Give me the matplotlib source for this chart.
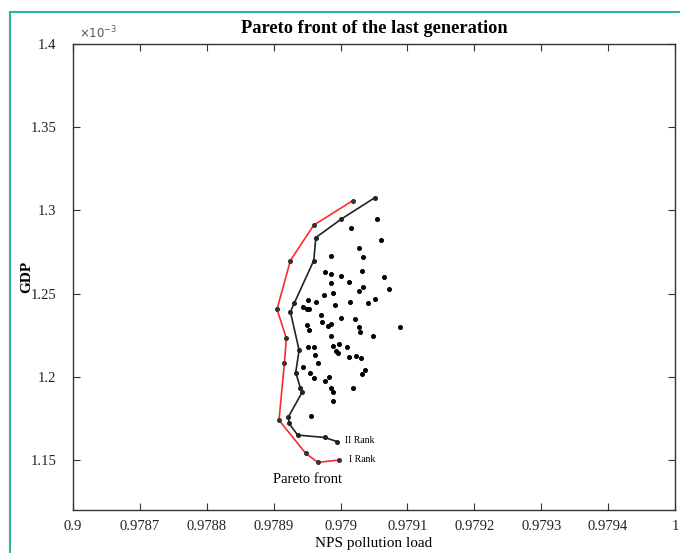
import matplotlib
matplotlib.use("Agg")
import matplotlib.pyplot as plt
from matplotlib.lines import Line2D

plt.rcParams['font.family'] = ['Liberation Serif', 'DejaVu Serif']

# ---- data (GDP in units of 1e-3) ----
rank1_x = [0.979018, 0.978960, 0.978925, 0.978905, 0.978919, 0.978916,
           0.978908, 0.978948, 0.978966, 0.978997]
rank1_y = [1.3058, 1.2912, 1.2699, 1.2406, 1.2231, 1.2081,
           1.1740, 1.1540, 1.1486, 1.1500]

rank2_x = [0.979051, 0.979001, 0.978963, 0.978960, 0.978931, 0.978925,
           0.978938, 0.978933, 0.978940, 0.978943, 0.978922, 0.978923,
           0.978936, 0.978976, 0.978995]
rank2_y = [1.3076, 1.2948, 1.2837, 1.2699, 1.2445, 1.2391,
           1.2161, 1.2026, 1.1933, 1.1910, 1.1760, 1.1720,
           1.1650, 1.1636, 1.1611]

pop_x = [0.979054, 0.979016, 0.979060, 0.979027, 0.978986, 0.979033,
         0.978976, 0.978986, 0.979000, 0.979032, 0.979065, 0.979012,
         0.978986, 0.979073, 0.979028, 0.979034, 0.978988, 0.978975,
         0.978951, 0.978964, 0.979014, 0.979041, 0.979052, 0.978944,
         0.978950, 0.978953, 0.978992, 0.978971, 0.979000, 0.979022,
         0.979089, 0.978973, 0.978981, 0.978985, 0.978950, 0.979027,
         0.978953, 0.979029, 0.978985, 0.979049, 0.978951, 0.978960,
         0.978989, 0.978997, 0.979010, 0.978993, 0.978996, 0.978962,
         0.979013, 0.979023, 0.979030, 0.978967, 0.978944, 0.978955,
         0.978960, 0.978977, 0.978983, 0.979032, 0.979037, 0.978985,
         0.978988, 0.979018, 0.978988, 0.978956]
pop_y = [1.2948, 1.2892, 1.2822, 1.2776, 1.2729, 1.2722,
         1.2628, 1.2618, 1.2609, 1.2636, 1.2601, 1.2571,
         1.2564, 1.2526, 1.2517, 1.2537, 1.2502, 1.2491,
         1.2463, 1.2451, 1.2451, 1.2445, 1.2469, 1.2422,
         1.2410, 1.2406, 1.2430, 1.2371, 1.2353, 1.2347,
         1.2301, 1.2331, 1.2308, 1.2315, 1.2311, 1.2302,
         1.2281, 1.2271, 1.2248, 1.2246, 1.2177, 1.2181,
         1.2185, 1.2197, 1.2181, 1.2158, 1.2141, 1.2131,
         1.2117, 1.2127, 1.2111, 1.2085, 1.2057, 1.2025,
         1.1991, 1.1976, 1.2000, 1.2017, 1.2041, 1.1931,
         1.1909, 1.1936, 1.1854, 1.1766]

x_ticks = [0.9786, 0.9787, 0.9788, 0.9789, 0.9790, 0.9791, 0.9792, 0.9793, 0.9794, 0.9795]
x_ticklabels = ['0.9', '0.9787', '0.9788', '0.9789', '0.979', '0.9791',
                '0.9792', '0.9793', '0.9794', '1']
y_ticks = [1.15, 1.2, 1.25, 1.3, 1.35, 1.4]
y_ticklabels = ['1.15', '1.2', '1.25', '1.3', '1.35', '1.4']

fig = plt.figure(figsize=(6.8, 5.53), dpi=100)
ax = fig.add_axes([73/680, 1-510/553, (675-73)/680, (510-44)/553])

ax.plot(pop_x, pop_y, 'o', color='black', markersize=2.6, linestyle='none')
ax.plot(rank2_x, rank2_y, '-o', color='#222222', linewidth=1.2,
        markersize=2.6, markerfacecolor='#222222', markeredgecolor='#222222')
ax.plot(rank1_x, rank1_y, '-', color='#ff2a2a', linewidth=1.2)
ax.plot(rank1_x, rank1_y, 'o', color='#333333', markersize=2.6)

ax.set_xlim(0.9786, 0.9795)
ax.set_ylim(1.12, 1.4)
ax.set_xticks(x_ticks)
ax.set_xticklabels(x_ticklabels)
ax.set_yticks(y_ticks)
ax.set_yticklabels(y_ticklabels)
ax.tick_params(direction='in', top=True, right=True, length=5, width=0.8,
               labelsize=10.5, colors='#333333', labelcolor='#222222')
ax.tick_params(axis='y', pad=12)
ax.tick_params(axis='x', pad=7)
for s in ax.spines.values():
    s.set_linewidth(1.0)
    s.set_color('#333333')

ax.set_title('Pareto front of the last generation', fontsize=13.2,
             fontweight='bold', pad=8)
ax.set_xlabel('NPS pollution load', fontsize=11, labelpad=3)
ax.set_ylabel('GDP', fontsize=11, fontweight='bold', labelpad=-2)

ax.text(0.01, 1.005, r'$\times10^{-3}$', transform=ax.transAxes,
        fontsize=8.5, color='#555555', ha='left', va='bottom')

ax.text(0.978950, 1.1386, 'Pareto front', fontsize=10.5, ha='center', va='center')
ax.text(0.979006, 1.1620, 'II Rank', fontsize=7, ha='left', va='center')
ax.text(0.979013, 1.1506, 'I Rank', fontsize=7, ha='left', va='center')

teal = '#2bb5a0'
fig.add_artist(Line2D([10/680, 10/680], [0, 1-12/553], color=teal,
                      linewidth=1.5, transform=fig.transFigure))
fig.add_artist(Line2D([10/680, 1], [1-12/553, 1-12/553], color=teal,
                      linewidth=1.5, transform=fig.transFigure))

fig.savefig('out.png', dpi=100)
